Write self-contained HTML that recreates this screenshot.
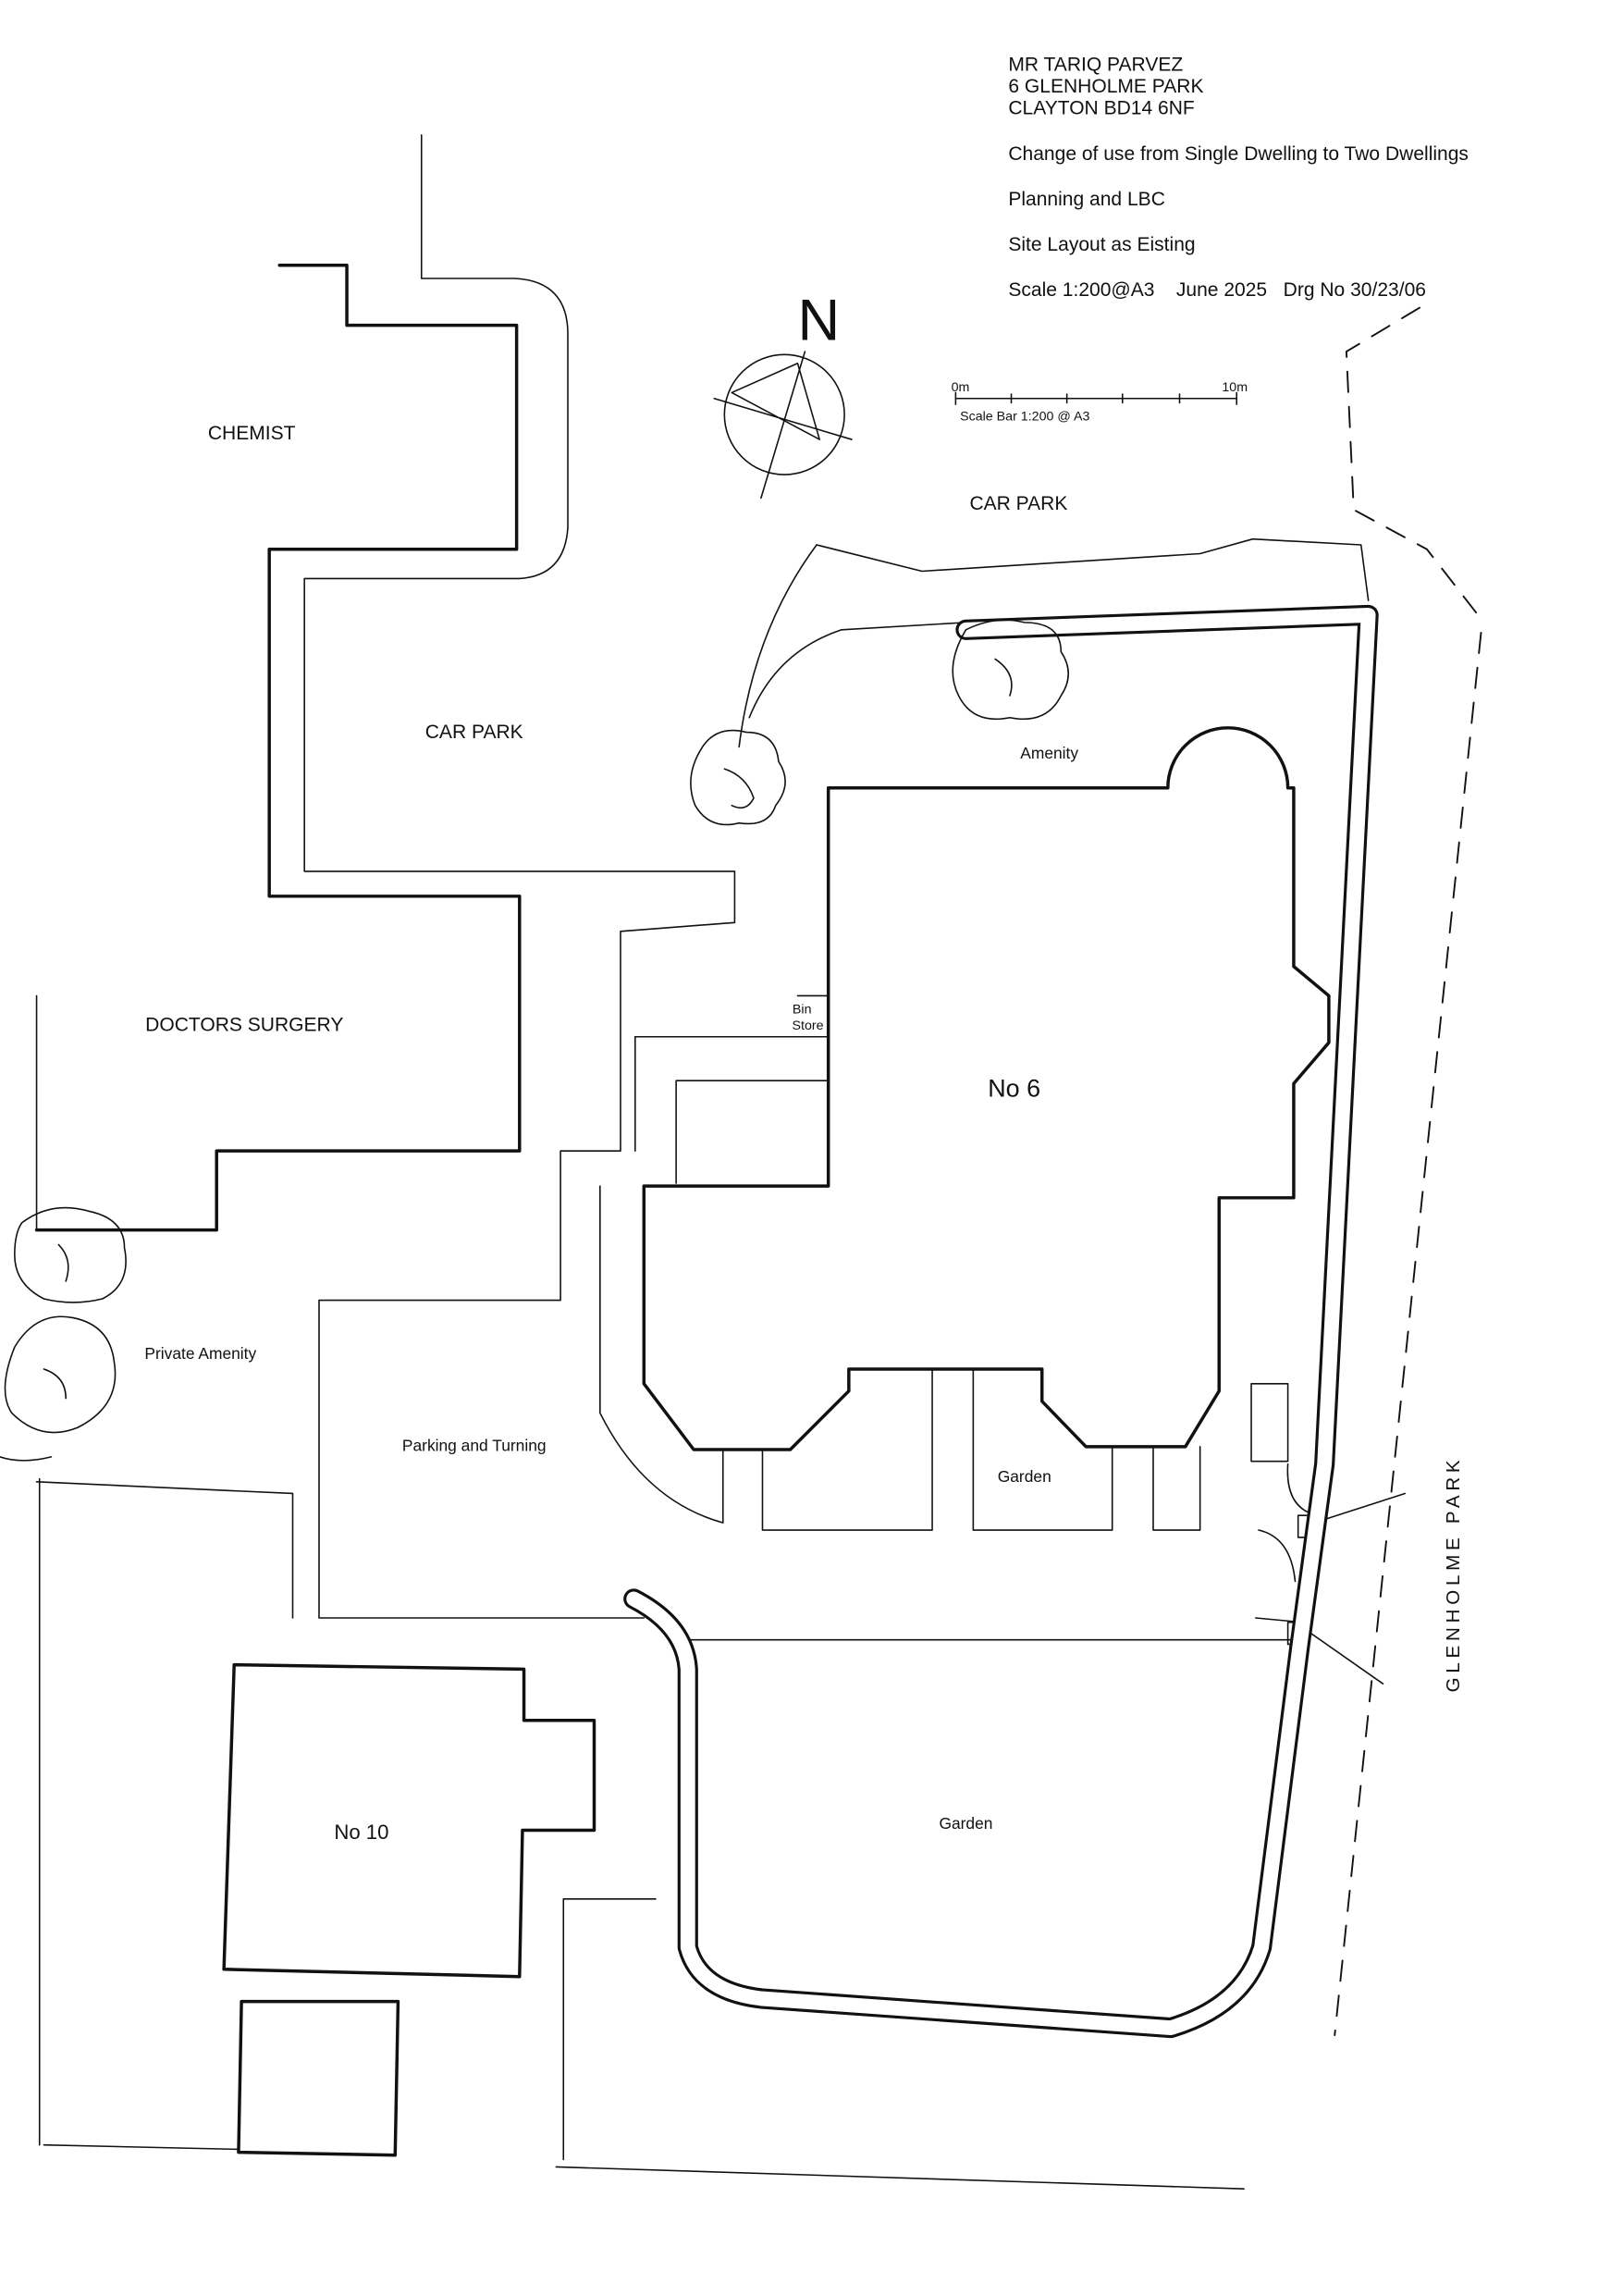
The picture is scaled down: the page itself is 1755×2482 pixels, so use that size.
<!DOCTYPE html>
<html><head><meta charset="utf-8"><style>
html,body{margin:0;padding:0;background:#fff}
svg{display:block}
text{font-family:"Liberation Sans",sans-serif;fill:#111}
</style></head><body>
<svg width="1755" height="2482" viewBox="0 0 1109 1568" xmlns="http://www.w3.org/2000/svg">
<rect width="1109" height="1568" fill="#fff"/>
<g fill="none" stroke="#111" stroke-linejoin="round" stroke-linecap="round">
<g stroke-width="2.2">
<polyline points="191,181 237,181 237,222 353,222 353,375 184,375 184,612 355,612 355,786 148,786 148,840 25,840"/>
<path d="M566,538 L798,538 A41,41 0 0 1 880,538 L884,538 L884,660 L908,680 L908,712 L884,740 L884,818 L833,818 L833,950 L810,988 L742,988 L712,957 L712,935 L580,935 L580,950 L540,990 L474,990 L440,945 L440,810 L566,810 Z"/>
<polygon points="160,1137 358,1140 358,1175 406,1175 406,1250 357,1250 355,1350 153,1345"/>
<polygon points="165,1367 272,1367 270,1472 163,1470"/>
</g>
<g stroke-width="1">
<line x1="25" y1="680" x2="25" y2="840"/>
<line x1="27" y1="1010" x2="27" y2="1465"/>
<line x1="30" y1="1465" x2="163" y2="1468"/>
<path d="M288,92 L288,190 L352,190 Q388,192 388,228 L388,360 Q386,393 355,395 L208,395 L208,595 L502,595 L502,630 L424,636 L424,786 L383,786 L383,888 L218,888 L218,1105 L440,1105"/>
<polyline points="25,1012 200,1020 200,1105"/>
<line x1="434" y1="708" x2="566" y2="708"/>
<line x1="434" y1="708" x2="434" y2="786"/>
<polyline points="462,808 462,738 566,738"/>
<path d="M410,810 L410,965 Q440,1025 494,1040 L494,990"/>
<polyline points="521,990 521,1045 637,1045 637,935"/>
<polyline points="665,935 665,1045 760,1045 760,988"/>
<polyline points="788,988 788,1045 820,1045 820,988"/>
<polyline points="385,1475 385,1297 448,1297"/>
<line x1="380" y1="1480" x2="850" y2="1495"/>
<line x1="470" y1="1120" x2="885" y2="1120"/>
<polyline points="558,372 630,390 820,378 856,368 930,372 935,410"/>
<path d="M558,372 Q515,430 505,510"/>
<path d="M660,425 L575,430 Q530,445 512,490"/>
<polyline points="855,945 880,945 880,998 855,998 855,945"/>
<path d="M880,1000 Q878,1030 900,1035"/>
<path d="M860,1045 Q882,1050 885,1080"/>
<path d="M858,1105 L890,1108"/>
<line x1="898" y1="1040" x2="960" y2="1020"/>
<line x1="895" y1="1115" x2="945" y2="1150"/>
<rect x="887" y="1035" width="10" height="15"/>
<rect x="880" y="1108" width="10" height="15"/>
<circle cx="536" cy="283" r="41"/>
<line x1="520" y1="340" x2="550" y2="240"/>
<polygon points="500,268 545,248 560,300"/>
<line x1="488" y1="272" x2="582" y2="300"/>
<line x1="653" y1="272" x2="845" y2="272"/>
<line x1="653" y1="268" x2="653" y2="276"/><line x1="691" y1="269" x2="691" y2="275"/><line x1="729" y1="269" x2="729" y2="275"/><line x1="767" y1="269" x2="767" y2="275"/><line x1="806" y1="269" x2="806" y2="275"/><line x1="845" y1="268" x2="845" y2="276"/>
<line x1="545" y1="680" x2="566" y2="680"/><line x1="545" y1="708" x2="566" y2="708"/>
</g>
<g stroke-width="1.2" stroke-dasharray="14,10">
<polyline points="970,210 920,240 925,348 975,375 1010,420"/>
<line x1="1012" y1="432" x2="912" y2="1390"/>
</g>
<g stroke-width="14" stroke="#111">
<path d="M433,1092 Q468,1110 470,1140 L470,1330 Q478,1360 520,1365 L800,1385 Q850,1370 862,1330 L888,1125 L905,1000 L935,420 L660,430"/>
</g>
<g stroke-width="10" stroke="#fff">
<path d="M433,1092 Q468,1110 470,1140 L470,1330 Q478,1360 520,1365 L800,1385 Q850,1370 862,1330 L888,1125 L905,1000 L935,420 L660,430"/>
</g>
<g stroke-width="1">
<path d="M480,510 q10,-15 30,-10 q20,0 22,20 q10,15 -2,30 q-5,15 -25,12 q-20,5 -30,-12 q-8,-20 5,-40 z"/>
<path d="M495,525 q15,5 20,20 q-5,10 -15,5"/>
<path d="M660,430 q20,-10 40,-5 q25,0 25,20 q10,15 0,30 q-10,20 -35,15 q-25,5 -35,-15 q-10,-20 5,-45 z"/>
<path d="M680,450 q15,10 10,25"/>
<path d="M15,835 q20,-15 45,-8 q25,5 25,25 q5,25 -15,35 q-20,5 -40,0 q-20,-10 -20,-30 q0,-15 5,-22 z"/>
<path d="M10,920 q15,-25 40,-20 q25,5 28,30 q5,30 -25,45 q-25,10 -45,-10 q-10,-15 2,-45 z"/>
<path d="M30,935 q15,5 15,20"/><path d="M40,850 q10,10 5,25"/>
<path d="M0,995 q15,5 35,0"/>
</g>
</g>
<g font-size="13.3">
<text x="689" y="48">MR TARIQ PARVEZ</text>
<text x="689" y="63">6 GLENHOLME PARK</text>
<text x="689" y="78">CLAYTON BD14 6NF</text>
<text x="689" y="109">Change of use from Single Dwelling to Two Dwellings</text>
<text x="689" y="140">Planning and LBC</text>
<text x="689" y="171">Site Layout as Eisting</text>
<text x="689" y="202">Scale 1:200@A3 &#160;&#160; June 2025 &#160; Drg No 30/23/06</text>
<text x="172" y="300" text-anchor="middle">CHEMIST</text>
<text x="696" y="348" text-anchor="middle">CAR PARK</text>
<text x="324" y="504" text-anchor="middle">CAR PARK</text>
<text x="167" y="704" text-anchor="middle">DOCTORS SURGERY</text>
</g>
<text x="545" y="232" font-size="40">N</text>
<text x="650" y="267" font-size="9">0m</text>
<text x="835" y="267" font-size="9">10m</text>
<text x="656" y="287" font-size="9">Scale Bar 1:200 @ A3</text>
<g font-size="11">
<text x="717" y="518" text-anchor="middle">Amenity</text>
<text x="137" y="928" text-anchor="middle">Private Amenity</text>
<text x="324" y="991" text-anchor="middle">Parking and Turning</text>
<text x="700" y="1012" text-anchor="middle">Garden</text>
<text x="660" y="1249" text-anchor="middle">Garden</text>
</g>
<text x="548" y="692" font-size="9" text-anchor="middle">Bin</text>
<text x="552" y="703" font-size="9" text-anchor="middle">Store</text>
<text x="693" y="749" font-size="17" text-anchor="middle">No 6</text>
<text x="247" y="1256" font-size="14" text-anchor="middle">No 10</text>
<text transform="translate(997,1075) rotate(-90)" font-size="13" text-anchor="middle" letter-spacing="3">GLENHOLME PARK</text>
</svg>
</body></html>
